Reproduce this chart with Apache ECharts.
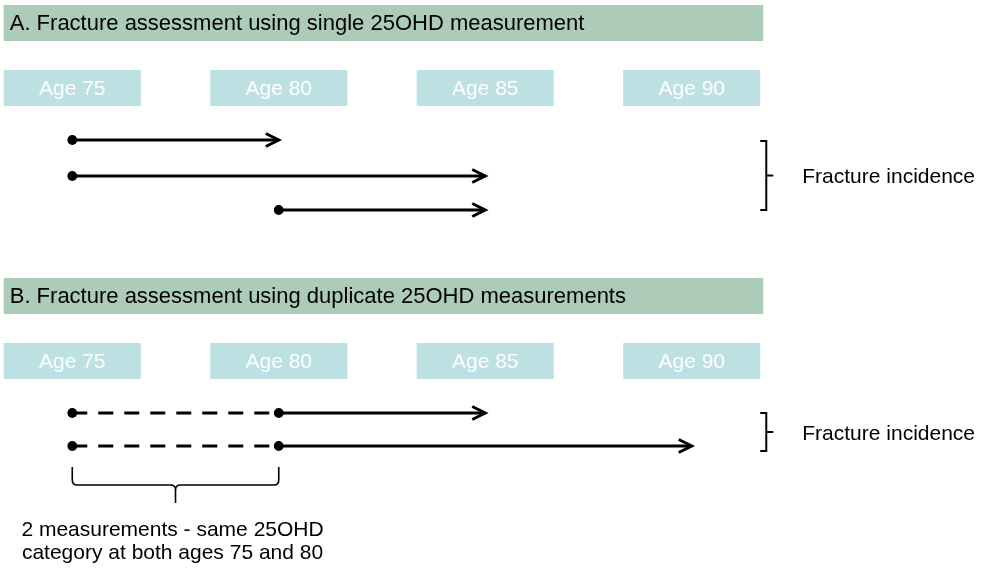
<!DOCTYPE html>
<html>
<head>
<meta charset="utf-8">
<script src="https://cdn.jsdelivr.net/npm/echarts@6/dist/echarts.min.js"></script>
<style>
  html, body { margin: 0; padding: 0; background: #fff; }
  #main { width: 987px; height: 568px; }
</style>
</head>
<body>
<div id="main"></div>
<script>
// ---- data ----
var ages = [75, 80, 85, 90]
var ageLabels = ['Age 75', 'Age 80', 'Age 85', 'Age 90']
var panelTitles = [
  'A. Fracture assessment using single 25OHD measurement',
  'B. Fracture assessment using duplicate 25OHD measurements'
]
// panel A: one measurement, then follow-up to the arrow tip
var singleStart = [75, 75, 80]
var singleEnd = [80, 85, 85]
// panel B: first measurement -> second measurement (dashed), then follow-up
var dupFirst = [75, 75]
var dupSecond = [80, 80]
var dupEnd = [85, 90]
var outcomeLabel = 'Fracture incidence'
var noteLines = ['2 measurements - same 25OHD', 'category at both ages 75 and 80']

// ---- layout (y axis is plain pixel rows, top down) ----
var FAMILY = '"Liberation Sans", Arial, sans-serif'
var FONT = '21px ' + FAMILY
var TITLE_FONT = '22px ' + FAMILY
var boxHalf = 1.66           // half width of an age box, in years
var panelTop = [5, 278]
var rowsA = [140, 176, 210]
var rowsB = [413, 446]
var bracketA = [141, 210]
var bracketB = [413, 451]

var chart = echarts.init(document.getElementById('main'))

function arrowHead(x, y) {
  return {
    type: 'polyline',
    shape: { points: [[x - 13, y - 6.5], [x, y], [x - 13, y + 6.5]] },
    style: { stroke: '#000', lineWidth: 3, fill: null, lineJoin: 'miter' }
  }
}
function dot(x, y) {
  return { type: 'circle', shape: { cx: x, cy: y, r: 4.9 }, style: { fill: '#000' } }
}
function seg(x1, x2, y, dash) {
  return {
    type: 'line',
    shape: { x1: x1, y1: y, x2: x2, y2: y },
    style: { stroke: '#000', lineWidth: 2.8, lineDash: dash || null }
  }
}

var panelData = panelTitles.map(function (t, i) { return [i, t] })
var boxData = []
panelTop.forEach(function (top, p) {
  ages.forEach(function (a, i) { boxData.push([a, p, ageLabels[i]]) })
})
var arrowAData = singleStart.map(function (s, i) { return [s, singleEnd[i], rowsA[i]] })
var arrowBData = dupFirst.map(function (s, i) { return [s, dupSecond[i], dupEnd[i], rowsB[i]] })
var bracketData = [[bracketA[0], bracketA[1]], [bracketB[0], bracketB[1]]]

var option = {
  animation: false,
  grid: { left: 0, right: 0, top: 0, bottom: 0 },
  xAxis: { type: 'value', min: 73.25, max: 97.15, show: false },
  yAxis: { type: 'value', min: 0, max: 568, inverse: true, show: false },
  series: [
    {
      name: 'panels',
      type: 'custom',
      data: panelData,
      renderItem: function (params, api) {
        var top = panelTop[api.value(0)]
        var l = api.coord([ages[0] - boxHalf, 0])[0]
        var r = api.coord([ages[ages.length - 1] + boxHalf, 0])[0] + 3
        return {
          type: 'group',
          children: [
            { type: 'rect', shape: { x: l, y: top, width: r - l, height: 36 }, style: { fill: '#adcbb9' } },
            {
              type: 'text',
              style: { text: panelTitles[api.value(0)], x: l + 6, y: top + 19, font: TITLE_FONT, fill: '#000', align: 'left', verticalAlign: 'middle' }
            }
          ]
        }
      }
    },
    {
      name: 'ages',
      type: 'custom',
      data: boxData,
      renderItem: function (params, api) {
        var a = api.value(0)
        var top = panelTop[api.value(1)] + 65
        var l = api.coord([a - boxHalf, 0])[0]
        var r = api.coord([a + boxHalf, 0])[0]
        return {
          type: 'group',
          children: [
            { type: 'rect', shape: { x: l, y: top, width: r - l, height: 36 }, style: { fill: '#bde0e3' } },
            {
              type: 'text',
              style: { text: boxData[params.dataIndex][2], x: (l + r) / 2, y: top + 19, font: FONT, fill: '#fff', align: 'center', verticalAlign: 'middle' }
            }
          ]
        }
      }
    },
    {
      name: 'single',
      type: 'custom',
      data: arrowAData,
      renderItem: function (params, api) {
        var p0 = api.coord([api.value(0), api.value(2)])
        var p1 = api.coord([api.value(1), api.value(2)])
        return {
          type: 'group',
          children: [seg(p0[0], p1[0] - 1, p0[1]), arrowHead(p1[0], p1[1]), dot(p0[0], p0[1])]
        }
      }
    },
    {
      name: 'duplicate',
      type: 'custom',
      data: arrowBData,
      renderItem: function (params, api) {
        var y = api.value(3)
        var p0 = api.coord([api.value(0), y])
        var p1 = api.coord([api.value(1), y])
        var p2 = api.coord([api.value(2), y])
        return {
          type: 'group',
          children: [
            seg(p0[0], p1[0], p0[1], [15, 11]),
            seg(p1[0], p2[0] - 1, p1[1]),
            arrowHead(p2[0], p2[1]),
            dot(p0[0], p0[1]),
            dot(p1[0], p1[1])
          ]
        }
      }
    },
    {
      name: 'outcome',
      type: 'custom',
      data: bracketData,
      renderItem: function (params, api) {
        var x = api.coord([ages[ages.length - 1] + boxHalf, 0])[0] + 6
        var t = api.value(0), b = api.value(1), m = (t + b) / 2
        return {
          type: 'group',
          children: [
            {
              type: 'polyline',
              shape: { points: [[x - 6, t], [x, t], [x, b], [x - 6, b]] },
              style: { stroke: '#000', lineWidth: 2, fill: null }
            },
            { type: 'line', shape: { x1: x, y1: m, x2: x + 7, y2: m }, style: { stroke: '#000', lineWidth: 2 } },
            {
              type: 'text',
              style: { text: outcomeLabel, x: x + 36, y: m + 2, font: FONT, fill: '#000', align: 'left', verticalAlign: 'middle' }
            }
          ]
        }
      }
    },
    {
      name: 'note',
      type: 'custom',
      data: [[dupFirst[0], dupSecond[0]]],
      renderItem: function (params, api) {
        var l = api.coord([api.value(0), 0])[0]
        var r = api.coord([api.value(1), 0])[0]
        var c = (l + r) / 2
        var t = 467, h = 485, k = 5
        var d = 'M' + l + ' ' + t + ' L' + l + ' ' + (h - k) + ' Q' + l + ' ' + h + ' ' + (l + k) + ' ' + h +
          ' L' + (c - k) + ' ' + h + ' Q' + c + ' ' + h + ' ' + c + ' ' + (h + k) + ' L' + c + ' 503' +
          ' M' + c + ' ' + (h + k) + ' Q' + c + ' ' + h + ' ' + (c + k) + ' ' + h +
          ' L' + (r - k) + ' ' + h + ' Q' + r + ' ' + h + ' ' + r + ' ' + (h - k) + ' L' + r + ' ' + t
        return {
          type: 'group',
          children: [
            { type: 'path', shape: { pathData: d }, style: { stroke: '#000', lineWidth: 1.6, fill: null } },
            { type: 'text', style: { text: noteLines[0], x: c - 3, y: 530, font: FONT, fill: '#000', align: 'center', verticalAlign: 'middle' } },
            { type: 'text', style: { text: noteLines[1], x: c - 3, y: 553, font: FONT, fill: '#000', align: 'center', verticalAlign: 'middle' } }
          ]
        }
      }
    }
  ]
}

chart.setOption(option)
window.addEventListener('resize', function () { chart.resize() })
</script>
</body>
</html>
